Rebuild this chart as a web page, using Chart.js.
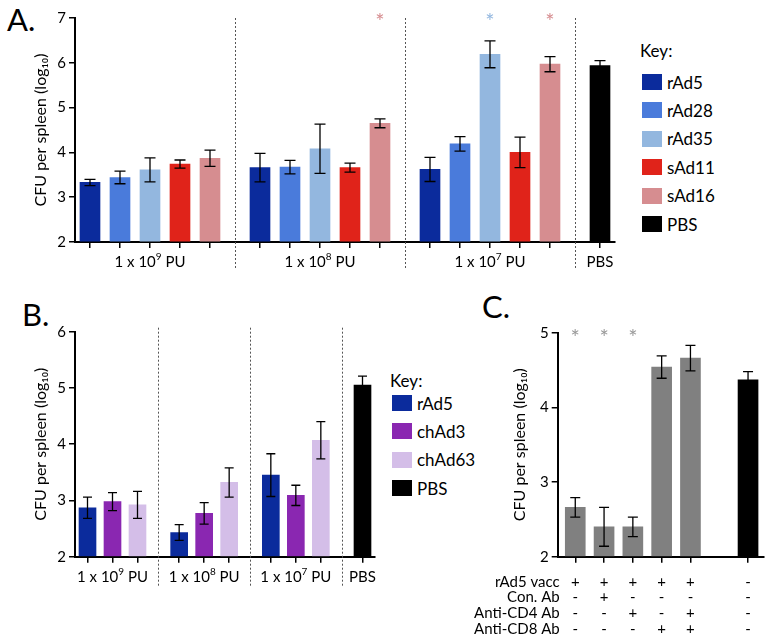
<!DOCTYPE html>
<html lang="en">
<head>
<meta charset="UTF-8">
<title>CFU per spleen</title>
<script src="https://cdn.jsdelivr.net/npm/chart.js"></script>
<style>
  body { margin: 0; background: #fff; font-family: Lato, "Open Sans", sans-serif; }
  #wrap { position: relative; width: 773px; height: 644px; overflow: hidden; }
  canvas { position: absolute; }
  .tag { position: absolute; font-size: 31px; line-height: 1; color: #000; }
  .key { position: absolute; font-size: 17px; color: #000; }
  .key .row { position: absolute; left: 0; height: 16px; white-space: nowrap; display: flex; align-items: center; }
  .key .box { width: 20px; height: 16px; margin-right: 5px; display: inline-block; }
</style>
</head>
<body>
<div id="wrap">
  <div class="tag" style="left:7px;top:4px">A.</div>
  <div class="tag" style="left:22px;top:299px">B.</div>
  <div class="tag" style="left:482px;top:291px">C.</div>

  <canvas id="chartA" width="630" height="290" style="left:0;top:0"></canvas>
  <div class="key" id="keyA" style="left:640px;top:0"></div>

  <canvas id="chartB" width="385" height="300" style="left:0;top:300px"></canvas>
  <div class="key" id="keyB" style="left:390px;top:300px"></div>

  <canvas id="chartC" width="308" height="354" style="left:465px;top:290px"></canvas>
</div>

<script>
// ---- data: panel A ----
const groupsA = ['1 x 10^9 PU', '1 x 10^8 PU', '1 x 10^7 PU'];
const seriesA = ['rAd5', 'rAd28', 'rAd35', 'sAd11', 'sAd16'];
const colorsA = ['#0b2b9c', '#4a7bdb', '#93b7df', '#e0231a', '#d68d90'];
const meansA = [
  [3.33, 3.44, 3.61, 3.74, 3.87],
  [3.66, 3.67, 4.08, 3.66, 4.65],
  [3.62, 4.19, 6.19, 4.00, 5.97]
];
const errsA = [
  [0.07, 0.14, 0.27, 0.09, 0.18],
  [0.32, 0.15, 0.55, 0.10, 0.10],
  [0.27, 0.16, 0.30, 0.34, 0.17]
];
const pbsA = 5.94, pbsErrA = 0.11;
const starsA = [[1, 4], [2, 2], [2, 4]];   // [group, series]

// ---- data: panel B ----
const groupsB = ['1 x 10^9 PU', '1 x 10^8 PU', '1 x 10^7 PU'];
const seriesB = ['rAd5', 'chAd3', 'chAd63'];
const colorsB = ['#0b2b9c', '#8a27b1', '#d4bee8'];
const meansB = [
  [2.87, 2.98, 2.92],
  [2.43, 2.77, 3.32],
  [3.45, 3.09, 4.07]
];
const errsB = [
  [0.19, 0.16, 0.24],
  [0.14, 0.19, 0.26],
  [0.38, 0.18, 0.33]
];
const pbsB = 5.05, pbsErrB = 0.16;

// ---- data: panel C ----
const rowsC = ['rAd5 vacc', 'Con. Ab', 'Anti-CD4 Ab', 'Anti-CD8 Ab'];
const signsC = [
  ['+', '+', '+', '+', '+', '-'],
  ['-', '+', '-', '-', '-', '-'],
  ['-', '-', '+', '-', '+', '-'],
  ['-', '-', '-', '+', '+', '-']
];
const posC = [0, 1, 2, 3, 4, 6];
const meansC = [2.66, 2.40, 2.40, 4.54, 4.66, 4.37];
const errsC = [0.13, 0.26, 0.13, 0.15, 0.17, 0.11];
const colorsC = ['#808080', '#808080', '#808080', '#808080', '#808080', '#000000'];
const starsC = [0, 1, 2];

const FONT = 'Lato, "Open Sans", sans-serif';
Chart.defaults.font.family = FONT;
Chart.defaults.color = '#000';

function groupedSets(series, colors, means, errs, pbs, pbsErr, thick) {
  const step = series.length + 2 / 3;
  const sets = series.map((name, s) => ({
    label: name,
    backgroundColor: colors[s],
    data: means.map((g, gi) => ({ x: gi * step + s, y: g[s] })),
    errors: errs.map(g => g[s]),
    barThickness: thick, grouped: false, base: 2
  }));
  sets.push({
    label: 'PBS', backgroundColor: '#000',
    data: [{ x: means.length * step, y: pbs }], errors: [pbsErr],
    barThickness: thick, grouped: false, base: 2
  });
  return sets;
}

function yAxis(min, max, width, titlePad) {
  return {
    min: min, max: max,
    ticks: { stepSize: 1, font: { size: 15 }, padding: 3, color: '#000' },
    grid: { drawOnChartArea: false, tickLength: 6, color: '#000', lineWidth: 1.5 },
    border: { color: '#000', width: 2 },
    title: { display: true, text: 'CFU per spleen (log₁₀)', font: { size: 16 }, color: '#000',
             padding: { top: titlePad, bottom: 0 } },
    afterFit: s => { s.width = width; }
  };
}

function xAxis(min, max, ticks, height) {
  return {
    type: 'linear', min: min, max: max, offset: false,
    afterBuildTicks: s => { s.ticks = ticks.map(v => ({ value: v })); },
    ticks: { display: false, autoSkip: false },
    grid: { drawOnChartArea: false, offset: false, tickLength: 6, color: '#000', lineWidth: 1.5 },
    border: { color: '#000', width: 2 },
    afterFit: s => { s.height = height; }
  };
}

// label with a superscript part after '^'
function drawSup(ctx, text, x, y, size) {
  const [base, tail] = text.split('^');
  const exp = tail ? tail.split(' ')[0] : '';
  const rest = tail ? tail.slice(exp.length) : '';
  ctx.font = size + 'px ' + FONT;
  const w1 = ctx.measureText(base).width, w3 = ctx.measureText(rest).width;
  ctx.font = Math.round(size * 0.65) + 'px ' + FONT;
  const w2 = ctx.measureText(exp).width;
  let cx = x - (w1 + w2 + w3) / 2;
  ctx.textAlign = 'left';
  ctx.textBaseline = 'middle';
  ctx.font = size + 'px ' + FONT;
  ctx.fillText(base, cx, y);
  ctx.font = Math.round(size * 0.65) + 'px ' + FONT;
  ctx.fillText(exp, cx + w1, y - size * 0.33);
  ctx.font = size + 'px ' + FONT;
  ctx.fillText(rest, cx + w1 + w2, y);
}

const panelPlugin = {
  id: 'panel',
  afterDatasetsDraw(chart, args, o) {
    const ctx = chart.ctx, ys = chart.scales.y;
    ctx.save();
    ctx.strokeStyle = '#000';
    ctx.lineWidth = 1.3;
    chart.data.datasets.forEach((ds, di) => {
      chart.getDatasetMeta(di).data.forEach((bar, i) => {
        const v = ds.data[i].y, e = ds.errors[i];
        const hi = ys.getPixelForValue(v + e), lo = ys.getPixelForValue(v - e);
        ctx.beginPath();
        ctx.moveTo(bar.x, hi); ctx.lineTo(bar.x, lo);
        ctx.moveTo(bar.x - o.cap, hi); ctx.lineTo(bar.x + o.cap, hi);
        ctx.moveTo(bar.x - o.cap, lo); ctx.lineTo(bar.x + o.cap, lo);
        ctx.stroke();
      });
    });
    ctx.restore();
  },
  afterDraw(chart, args, o) {
    const ctx = chart.ctx, xs = chart.scales.x, area = chart.chartArea;
    ctx.save();
    ctx.fillStyle = '#000';
    // dotted separators
    ctx.strokeStyle = '#555';
    ctx.lineWidth = 1;
    ctx.setLineDash([2, 2]);
    (o.seps || []).forEach(v => {
      const px = Math.round(xs.getPixelForValue(v)) + 0.5;
      ctx.beginPath();
      ctx.moveTo(px, area.top - o.sepUp);
      ctx.lineTo(px, area.bottom + o.sepDown);
      ctx.stroke();
    });
    ctx.setLineDash([]);
    // group labels
    (o.labels || []).forEach(l => drawSup(ctx, l.text, xs.getPixelForValue(l.x), area.bottom + o.labelDy, 15));
    // stars
    ctx.font = '22px ' + FONT;
    ctx.textAlign = 'center';
    ctx.textBaseline = 'middle';
    (o.stars || []).forEach(s => {
      ctx.fillStyle = s.color;
      ctx.fillText('*', xs.getPixelForValue(s.x), area.top + o.starDy);
    });
    // table rows under panel C
    if (o.rows) {
      ctx.fillStyle = '#000';
      ctx.font = '15px ' + FONT;
      o.rows.forEach((r, ri) => {
        const y = area.bottom + 25 + ri * 15.9;
        ctx.textAlign = 'right';
        ctx.fillText(r, area.left + 2, y);
        ctx.textAlign = 'center';
        o.signs[ri].forEach((s, i) => ctx.fillText(s, xs.getPixelForValue(o.pos[i]), y));
      });
    }
    ctx.restore();
  }
};

function groupedChart(id, groups, series, colors, means, errs, pbs, pbsErr, cfg) {
  const n = series.length, step = n + 2 / 3;
  const sets = groupedSets(series, colors, means, errs, pbs, pbsErr, cfg.thick);
  const ticks = sets.flatMap(d => d.data.map(p => p.x)).sort((a, b) => a - b);
  const labels = groups.map((g, gi) => ({ text: g, x: gi * step + (n - 1) / 2 }));
  labels.push({ text: 'PBS', x: groups.length * step });
  const seps = groups.map((g, gi) => (gi + 1) * step - 5 / 6);
  const stars = (cfg.stars || []).map(([g, s]) => ({ x: g * step + s, color: colors[s] }));
  return new Chart(document.getElementById(id), {
    type: 'bar',
    data: { datasets: sets },
    options: {
      responsive: false, animation: false,
      layout: { padding: cfg.padding },
      plugins: {
        legend: { display: false }, tooltip: { enabled: false },
        panel: { cap: cfg.cap, seps: seps, sepUp: cfg.sepUp, sepDown: cfg.sepDown,
                 labels: labels, labelDy: cfg.labelDy, stars: stars, starDy: 4 }
      },
      scales: {
        x: xAxis(-0.5, groups.length * step + 0.5, ticks, cfg.xHeight),
        y: yAxis(2, cfg.yMax, cfg.yWidth, cfg.titlePad)
      }
    },
    plugins: [panelPlugin]
  });
}

function buildKey(id, names, colors, keyY, firstY, gap) {
  const el = document.getElementById(id);
  const head = document.createElement('div');
  head.className = 'row';
  head.style.top = (keyY - 8) + 'px';
  head.textContent = 'Key:';
  el.appendChild(head);
  names.forEach((n, i) => {
    const row = document.createElement('div');
    row.className = 'row';
    row.style.left = '2px';
    row.style.top = (firstY + i * gap - 8) + 'px';
    row.innerHTML = '<span class="box" style="background:' + colors[i] + '"></span>' + n;
    el.appendChild(row);
  });
}

groupedChart('chartA', groupsA, seriesA, colorsA, meansA, errsA, pbsA, pbsErrA, {
  thick: 20, cap: 5.5, yMax: 7, yWidth: 75, titlePad: 31, xHeight: 48,
  padding: { top: 18, left: 0, right: 15, bottom: 0 },
  sepUp: 0, sepDown: 28, labelDy: 20, stars: starsA
});
buildKey('keyA', seriesA.concat(['PBS']), colorsA.concat(['#000']), 50, 82, 28.4);

groupedChart('chartB', groupsB, seriesB, colorsB, meansB, errsB, pbsB, pbsErrB, {
  thick: 17, cap: 4.5, yMax: 6, yWidth: 75, titlePad: 31, xHeight: 43.3,
  padding: { top: 31.7, left: 0, right: 10, bottom: 0 },
  sepUp: 4, sepDown: 30, labelDy: 20
});
buildKey('keyB', seriesB.concat(['PBS']), colorsB.concat(['#000']), 80, 103, 28.4);

new Chart(document.getElementById('chartC'), {
  type: 'bar',
  data: {
    datasets: [{
      label: 'CFU',
      backgroundColor: colorsC,
      data: meansC.map((v, i) => ({ x: posC[i], y: v })),
      errors: errsC,
      barThickness: 20, grouped: false, base: 2
    }]
  },
  options: {
    responsive: false, animation: false,
    layout: { padding: { top: 42.7, left: 0, right: 9.7, bottom: 0 } },
    plugins: {
      legend: { display: false }, tooltip: { enabled: false },
      panel: { cap: 5, stars: starsC.map(i => ({ x: posC[i], color: '#999' })), starDy: 5,
               rows: rowsC, signs: signsC, pos: posC }
    },
    scales: {
      x: xAxis(-0.61, 6.53, posC, 87.3),
      y: yAxis(2, 5, 92.7, 45)
    }
  },
  plugins: [panelPlugin]
});
</script>
</body>
</html>
